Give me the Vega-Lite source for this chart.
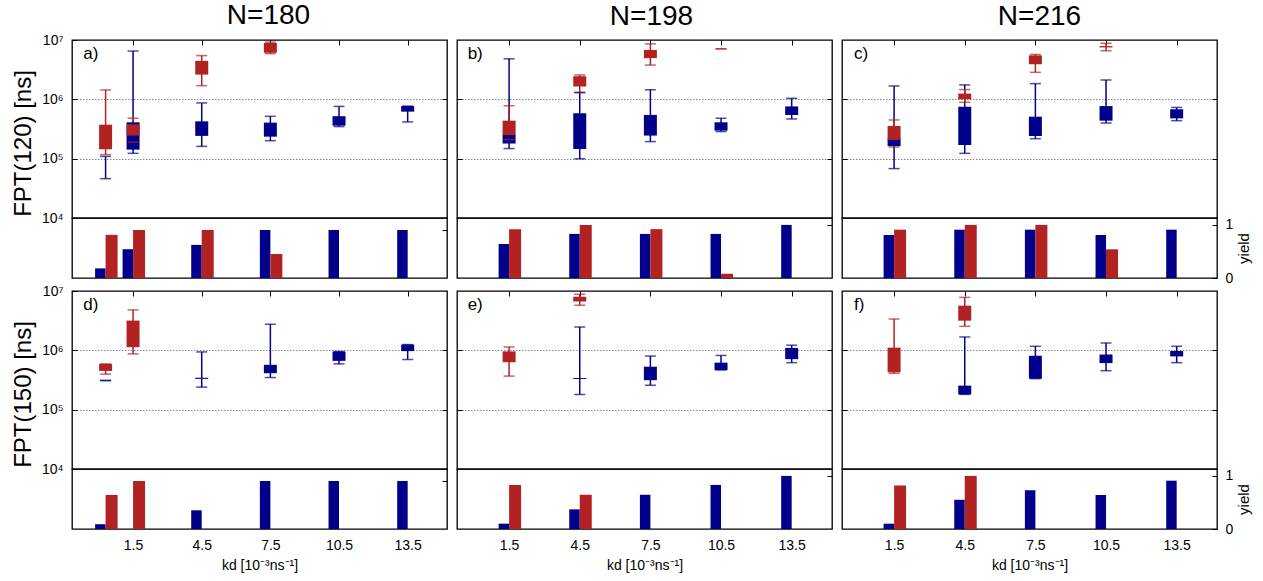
{
  "$schema": "https://vega.github.io/schema/vega-lite/v6.json",
  "background": "white",
  "padding": {"left": 10, "top": 0, "right": 5, "bottom": 3},
  "config": {
    "font": "Liberation Sans",
    "view": {"stroke": "black", "strokeWidth": 1.3},
    "axis": {"labelColor": "black", "tickColor": "black", "titleColor": "black", "labelFont": "Liberation Sans", "titleFont": "Liberation Sans", "tickWidth": 1},
    "title": {"color": "black", "fontWeight": "normal", "font": "Liberation Sans"}
  },
  "datasets": {
    "box": [
      {"p": "a", "kd": 0.3, "s": "b", "lo": 46000, "q1": null, "q3": null, "hi": 109000},
      {"p": "a", "kd": 1.5, "s": "b", "lo": 123000, "q1": 142000, "q3": 410000, "hi": 6500000},
      {"p": "a", "kd": 4.5, "s": "b", "lo": 161000, "q1": 242000, "q3": 426000, "hi": 870000},
      {"p": "a", "kd": 7.5, "s": "b", "lo": 201000, "q1": 235000, "q3": 405000, "hi": 517000},
      {"p": "a", "kd": 10.5, "s": "b", "lo": 347000, "q1": 360000, "q3": 520000, "hi": 760000},
      {"p": "a", "kd": 13.5, "s": "b", "lo": 416000, "q1": 620000, "q3": 770000, "hi": 770000},
      {"p": "b", "kd": 1.5, "s": "b", "lo": 148000, "q1": 180000, "q3": 255000, "hi": 4820000},
      {"p": "b", "kd": 4.5, "s": "b", "lo": 100000, "q1": 146000, "q3": 580000, "hi": 1310000},
      {"p": "b", "kd": 7.5, "s": "b", "lo": 194000, "q1": 245000, "q3": 546000, "hi": 1450000},
      {"p": "b", "kd": 10.5, "s": "b", "lo": 286000, "q1": 297000, "q3": 410000, "hi": 480000},
      {"p": "b", "kd": 13.5, "s": "b", "lo": 467000, "q1": 545000, "q3": 760000, "hi": 1040000},
      {"p": "c", "kd": 1.5, "s": "b", "lo": 68000, "q1": 163000, "q3": 220000, "hi": 1680000},
      {"p": "c", "kd": 4.5, "s": "b", "lo": 123000, "q1": 170000, "q3": 750000, "hi": 1750000},
      {"p": "c", "kd": 7.5, "s": "b", "lo": 217000, "q1": 241000, "q3": 510000, "hi": 1840000},
      {"p": "c", "kd": 10.5, "s": "b", "lo": 399000, "q1": 437000, "q3": 770000, "hi": 2120000},
      {"p": "c", "kd": 13.5, "s": "b", "lo": 437000, "q1": 478000, "q3": 680000, "hi": 730000},
      {"p": "d", "kd": 0.3, "s": "b", "lo": 310000, "q1": null, "q3": null, "hi": 310000},
      {"p": "d", "kd": 4.5, "s": "b", "lo": 240000, "q1": 330000, "q3": 345000, "hi": 940000},
      {"p": "d", "kd": 7.5, "s": "b", "lo": 348000, "q1": 412000, "q3": 570000, "hi": 2750000},
      {"p": "d", "kd": 10.5, "s": "b", "lo": 590000, "q1": 665000, "q3": 955000, "hi": 955000},
      {"p": "d", "kd": 13.5, "s": "b", "lo": 700000, "q1": 970000, "q3": 1250000, "hi": 1250000},
      {"p": "e", "kd": 4.5, "s": "b", "lo": 181000, "q1": 330000, "q3": 342000, "hi": 2480000},
      {"p": "e", "kd": 7.5, "s": "b", "lo": 258000, "q1": 314000, "q3": 530000, "hi": 800000},
      {"p": "e", "kd": 10.5, "s": "b", "lo": 466000, "q1": 466000, "q3": 620000, "hi": 820000},
      {"p": "e", "kd": 13.5, "s": "b", "lo": 620000, "q1": 710000, "q3": 1100000, "hi": 1220000},
      {"p": "f", "kd": 4.5, "s": "b", "lo": 181000, "q1": 181000, "q3": 254000, "hi": 1680000},
      {"p": "f", "kd": 7.5, "s": "b", "lo": 333000, "q1": 333000, "q3": 810000, "hi": 1170000},
      {"p": "f", "kd": 10.5, "s": "b", "lo": 454000, "q1": 610000, "q3": 850000, "hi": 1330000},
      {"p": "f", "kd": 13.5, "s": "b", "lo": 620000, "q1": 790000, "q3": 975000, "hi": 1170000},
      {"p": "a", "kd": 0.3, "s": "r", "lo": 117000, "q1": 144000, "q3": 374000, "hi": 1440000},
      {"p": "a", "kd": 1.5, "s": "r", "lo": 190000, "q1": 245000, "q3": 380000, "hi": 480000},
      {"p": "a", "kd": 4.5, "s": "r", "lo": 1700000, "q1": 2610000, "q3": 4450000, "hi": 5460000},
      {"p": "a", "kd": 7.5, "s": "r", "lo": 5900000, "q1": 6100000, "q3": 8900000, "hi": 9200000},
      {"p": "b", "kd": 1.5, "s": "r", "lo": 210000, "q1": 250000, "q3": 437000, "hi": 780000},
      {"p": "b", "kd": 4.5, "s": "r", "lo": 1310000, "q1": 1650000, "q3": 2440000, "hi": 2560000},
      {"p": "b", "kd": 7.5, "s": "r", "lo": 3780000, "q1": 4950000, "q3": 6800000, "hi": 8600000},
      {"p": "b", "kd": 10.5, "s": "r", "lo": 7100000, "q1": null, "q3": null, "hi": 7100000},
      {"p": "c", "kd": 1.5, "s": "r", "lo": 157000, "q1": 207000, "q3": 356000, "hi": 449000},
      {"p": "c", "kd": 4.5, "s": "r", "lo": 890000, "q1": 1000000, "q3": 1250000, "hi": 1460000},
      {"p": "c", "kd": 7.5, "s": "r", "lo": 2850000, "q1": 3900000, "q3": 5500000, "hi": 5700000},
      {"p": "c", "kd": 10.5, "s": "r", "lo": 6600000, "q1": 7500000, "q3": 7900000, "hi": 8800000},
      {"p": "d", "kd": 0.3, "s": "r", "lo": 397000, "q1": 450000, "q3": 590000, "hi": 590000},
      {"p": "d", "kd": 1.5, "s": "r", "lo": 870000, "q1": 1130000, "q3": 3170000, "hi": 4800000},
      {"p": "e", "kd": 1.5, "s": "r", "lo": 368000, "q1": 630000, "q3": 960000, "hi": 1140000},
      {"p": "e", "kd": 4.5, "s": "r", "lo": 5760000, "q1": 6650000, "q3": 8000000, "hi": 8800000},
      {"p": "f", "kd": 1.5, "s": "r", "lo": 410000, "q1": 426000, "q3": 1110000, "hi": 3370000},
      {"p": "f", "kd": 4.5, "s": "r", "lo": 2540000, "q1": 3160000, "q3": 5660000, "hi": 7800000}
    ],
    "yield": [
      {"p": "a", "kd": 0.3, "s": "b", "y": 0.2}, {"p": "a", "kd": 0.3, "s": "r", "y": 0.9},
      {"p": "a", "kd": 1.5, "s": "b", "y": 0.6}, {"p": "a", "kd": 1.5, "s": "r", "y": 1.0},
      {"p": "a", "kd": 4.5, "s": "b", "y": 0.69}, {"p": "a", "kd": 4.5, "s": "r", "y": 1.0},
      {"p": "a", "kd": 7.5, "s": "b", "y": 1.0}, {"p": "a", "kd": 7.5, "s": "r", "y": 0.5},
      {"p": "a", "kd": 10.5, "s": "b", "y": 1.0}, {"p": "a", "kd": 13.5, "s": "b", "y": 1.0},
      {"p": "b", "kd": 1.5, "s": "b", "y": 0.64}, {"p": "b", "kd": 1.5, "s": "r", "y": 0.92},
      {"p": "b", "kd": 4.5, "s": "b", "y": 0.83}, {"p": "b", "kd": 4.5, "s": "r", "y": 1.0},
      {"p": "b", "kd": 7.5, "s": "b", "y": 0.83}, {"p": "b", "kd": 7.5, "s": "r", "y": 0.92},
      {"p": "b", "kd": 10.5, "s": "b", "y": 0.83}, {"p": "b", "kd": 10.5, "s": "r", "y": 0.08},
      {"p": "b", "kd": 13.5, "s": "b", "y": 1.0},
      {"p": "c", "kd": 1.5, "s": "b", "y": 0.81}, {"p": "c", "kd": 1.5, "s": "r", "y": 0.91},
      {"p": "c", "kd": 4.5, "s": "b", "y": 0.91}, {"p": "c", "kd": 4.5, "s": "r", "y": 1.0},
      {"p": "c", "kd": 7.5, "s": "b", "y": 0.91}, {"p": "c", "kd": 7.5, "s": "r", "y": 1.0},
      {"p": "c", "kd": 10.5, "s": "b", "y": 0.81}, {"p": "c", "kd": 10.5, "s": "r", "y": 0.54},
      {"p": "c", "kd": 13.5, "s": "b", "y": 0.91},
      {"p": "d", "kd": 0.3, "s": "b", "y": 0.1}, {"p": "d", "kd": 0.3, "s": "r", "y": 0.71},
      {"p": "d", "kd": 1.5, "s": "r", "y": 1.0},
      {"p": "d", "kd": 4.5, "s": "b", "y": 0.39},
      {"p": "d", "kd": 7.5, "s": "b", "y": 1.0}, {"p": "d", "kd": 10.5, "s": "b", "y": 1.0},
      {"p": "d", "kd": 13.5, "s": "b", "y": 1.0},
      {"p": "e", "kd": 1.5, "s": "b", "y": 0.1}, {"p": "e", "kd": 1.5, "s": "r", "y": 0.83},
      {"p": "e", "kd": 4.5, "s": "b", "y": 0.37}, {"p": "e", "kd": 4.5, "s": "r", "y": 0.645},
      {"p": "e", "kd": 7.5, "s": "b", "y": 0.645}, {"p": "e", "kd": 10.5, "s": "b", "y": 0.83},
      {"p": "e", "kd": 13.5, "s": "b", "y": 1.0},
      {"p": "f", "kd": 1.5, "s": "b", "y": 0.1}, {"p": "f", "kd": 1.5, "s": "r", "y": 0.82},
      {"p": "f", "kd": 4.5, "s": "b", "y": 0.55}, {"p": "f", "kd": 4.5, "s": "r", "y": 1.0},
      {"p": "f", "kd": 7.5, "s": "b", "y": 0.73}, {"p": "f", "kd": 10.5, "s": "b", "y": 0.64},
      {"p": "f", "kd": 13.5, "s": "b", "y": 0.91}
    ]
  },
  "spacing": -3,
  "vconcat": [
    {
      "hconcat": [
        {
          "spacing": 0, "bounds": "flush",
          "vconcat": [
            {
              "width": 375, "height": 178,
              "title": {"text": "N=180", "fontSize": 28, "fontWeight": "normal", "offset": 3.5, "frame": "group", "anchor": "middle", "dx": 9},
              "data": {"name": "box"},
              "transform": [{"filter": "datum.p == 'a'"}],
              "resolve": {"axis": {"y": "independent"}},
              "layer": [
                {"mark": {"type": "rule", "strokeWidth": 1.5},
                 "encoding": {
                   "x": {"field": "kd", "type": "quantitative", "scale": {"domain": [-0.95, 15], "nice": false, "zero": false}, "axis": {"orient": "top", "values": [1.5, 4.5, 7.5, 10.5, 13.5], "labels": false, "tickSize": -5, "domain": false, "grid": false, "title": null}},
                   "y": {"field": "lo", "type": "quantitative", "scale": {"type": "log", "domain": [10000, 10000000], "nice": false}, "axis": {"orient": "left", "values": [10000, 100000, 1000000, 10000000], "tickSize": -5, "domain": false, "grid": false, "labelExpr": "'10' + (datum.value > 5000000 ? '⁷' : datum.value > 500000 ? '⁶' : datum.value > 50000 ? '⁵' : '⁴')", "labelFontSize": 14, "labelPadding": 14, "title": "FPT(120) [ns]", "titleFontSize": 24, "titleFontWeight": "normal", "titleX": -49, "titleY": 103, "titleBaseline": "middle"}},
                   "y2": {"field": "hi"},
                   "color": {"field": "s", "type": "nominal", "scale": {"domain": ["b", "r"], "range": ["#00008b", "#b22222"]}, "legend": null}}},
                {"transform": [{"filter": "isValid(datum.q1)"}],
                 "mark": {"type": "bar", "width": 13},
                 "encoding": {
                   "x": {"field": "kd", "type": "quantitative", "scale": {"domain": [-0.95, 15], "nice": false, "zero": false}},
                   "y": {"field": "q1", "type": "quantitative", "scale": {"type": "log", "domain": [10000, 10000000], "nice": false}, "axis": {"orient": "right", "values": [100000, 1000000], "labels": false, "tickSize": -5, "domain": false, "title": null, "grid": true, "gridDash": [1.5, 1.5], "gridColor": "#888888", "gridWidth": 1}},
                   "y2": {"field": "q3"},
                   "color": {"field": "s", "type": "nominal", "scale": {"domain": ["b", "r"], "range": ["#00008b", "#b22222"]}, "legend": null}}},
                {"mark": {"type": "tick", "orient": "horizontal", "size": 11, "thickness": 1.5},
                 "encoding": {
                   "x": {"field": "kd", "type": "quantitative", "scale": {"domain": [-0.95, 15], "nice": false, "zero": false}},
                   "y": {"field": "lo", "type": "quantitative", "scale": {"type": "log", "domain": [10000, 10000000], "nice": false}, "axis": null},
                   "color": {"field": "s", "type": "nominal", "scale": {"domain": ["b", "r"], "range": ["#00008b", "#b22222"]}, "legend": null}}},
                {"mark": {"type": "tick", "orient": "horizontal", "size": 11, "thickness": 1.5},
                 "encoding": {
                   "x": {"field": "kd", "type": "quantitative", "scale": {"domain": [-0.95, 15], "nice": false, "zero": false}},
                   "y": {"field": "hi", "type": "quantitative", "scale": {"type": "log", "domain": [10000, 10000000], "nice": false}, "axis": null},
                   "color": {"field": "s", "type": "nominal", "scale": {"domain": ["b", "r"], "range": ["#00008b", "#b22222"]}, "legend": null}}},
                {"data": {"values": [{}]},
                 "mark": {"type": "text", "align": "left", "baseline": "middle", "fontSize": 17, "color": "black"},
                 "encoding": {
                   "x": {"datum": -0.68, "type": "quantitative", "scale": {"domain": [-0.95, 15], "nice": false, "zero": false}},
                   "y": {"datum": 5800000, "type": "quantitative", "scale": {"type": "log", "domain": [10000, 10000000], "nice": false}, "axis": null},
                   "text": {"value": "a)"}}}
              ]
            },
            {
              "width": 375, "height": 60,
              "data": {"name": "yield"},
              "transform": [{"filter": "datum.p == 'a'"}],
              "layer": [
                {"transform": [{"filter": "datum.s == 'b'"}],
                 "mark": {"type": "bar", "width": 10.5, "xOffset": -5.25, "color": "#00008b"},
                 "encoding": {
                   "x": {"field": "kd", "type": "quantitative", "scale": {"domain": [-0.95, 15], "nice": false, "zero": false}, "axis": null},
                   "y": {"field": "y", "type": "quantitative", "scale": {"domain": [0, 1.25], "nice": false}, "axis": {"orient": "right", "values": [1], "tickSize": -5, "labels": false, "domain": false, "grid": false, "title": null}}}},
                {"transform": [{"filter": "datum.s == 'r'"}],
                 "mark": {"type": "bar", "width": 12, "xOffset": 6, "color": "#b22222"},
                 "encoding": {
                   "x": {"field": "kd", "type": "quantitative", "scale": {"domain": [-0.95, 15], "nice": false, "zero": false}, "axis": null},
                   "y": {"field": "y", "type": "quantitative", "scale": {"domain": [0, 1.25], "nice": false}, "axis": {"orient": "right", "values": [1], "tickSize": -5, "labels": false, "domain": false, "grid": false, "title": null}}}}
              ]
            }
          ]
        },
        {
          "spacing": 0, "bounds": "flush",
          "vconcat": [
            {
              "width": 375, "height": 178,
              "title": {"text": "N=198", "fontSize": 28, "fontWeight": "normal", "offset": 8.5, "frame": "group", "anchor": "middle", "dx": 7},
              "data": {"name": "box"},
              "transform": [{"filter": "datum.p == 'b'"}],
              "resolve": {"axis": {"y": "independent"}},
              "layer": [
                {"mark": {"type": "rule", "strokeWidth": 1.5},
                 "encoding": {
                   "x": {"field": "kd", "type": "quantitative", "scale": {"domain": [-0.5, 15], "nice": false, "zero": false}, "axis": {"orient": "top", "values": [1.5, 4.5, 7.5, 10.5, 13.5], "labels": false, "tickSize": -5, "domain": false, "grid": false, "title": null}},
                   "y": {"field": "lo", "type": "quantitative", "scale": {"type": "log", "domain": [10000, 10000000], "nice": false}, "axis": {"orient": "left", "values": [100000, 1000000], "tickSize": -5, "domain": false, "grid": false, "labels": false, "title": null}},
                   "y2": {"field": "hi"},
                   "color": {"field": "s", "type": "nominal", "scale": {"domain": ["b", "r"], "range": ["#00008b", "#b22222"]}, "legend": null}}},
                {"transform": [{"filter": "isValid(datum.q1)"}],
                 "mark": {"type": "bar", "width": 13},
                 "encoding": {
                   "x": {"field": "kd", "type": "quantitative", "scale": {"domain": [-0.5, 15], "nice": false, "zero": false}},
                   "y": {"field": "q1", "type": "quantitative", "scale": {"type": "log", "domain": [10000, 10000000], "nice": false}, "axis": {"orient": "right", "values": [100000, 1000000], "labels": false, "tickSize": -5, "domain": false, "title": null, "grid": true, "gridDash": [1.5, 1.5], "gridColor": "#888888", "gridWidth": 1}},
                   "y2": {"field": "q3"},
                   "color": {"field": "s", "type": "nominal", "scale": {"domain": ["b", "r"], "range": ["#00008b", "#b22222"]}, "legend": null}}},
                {"mark": {"type": "tick", "orient": "horizontal", "size": 11, "thickness": 1.5},
                 "encoding": {
                   "x": {"field": "kd", "type": "quantitative", "scale": {"domain": [-0.5, 15], "nice": false, "zero": false}},
                   "y": {"field": "lo", "type": "quantitative", "scale": {"type": "log", "domain": [10000, 10000000], "nice": false}, "axis": null},
                   "color": {"field": "s", "type": "nominal", "scale": {"domain": ["b", "r"], "range": ["#00008b", "#b22222"]}, "legend": null}}},
                {"mark": {"type": "tick", "orient": "horizontal", "size": 11, "thickness": 1.5},
                 "encoding": {
                   "x": {"field": "kd", "type": "quantitative", "scale": {"domain": [-0.5, 15], "nice": false, "zero": false}},
                   "y": {"field": "hi", "type": "quantitative", "scale": {"type": "log", "domain": [10000, 10000000], "nice": false}, "axis": null},
                   "color": {"field": "s", "type": "nominal", "scale": {"domain": ["b", "r"], "range": ["#00008b", "#b22222"]}, "legend": null}}},
                {"data": {"values": [{}]},
                 "mark": {"type": "text", "align": "left", "baseline": "middle", "fontSize": 17, "color": "black"},
                 "encoding": {
                   "x": {"datum": -0.26, "type": "quantitative", "scale": {"domain": [-0.5, 15], "nice": false, "zero": false}},
                   "y": {"datum": 5800000, "type": "quantitative", "scale": {"type": "log", "domain": [10000, 10000000], "nice": false}, "axis": null},
                   "text": {"value": "b)"}}}
              ]
            },
            {
              "width": 375, "height": 60,
              "data": {"name": "yield"},
              "transform": [{"filter": "datum.p == 'b'"}],
              "layer": [
                {"transform": [{"filter": "datum.s == 'b'"}],
                 "mark": {"type": "bar", "width": 10.5, "xOffset": -5.25, "color": "#00008b"},
                 "encoding": {
                   "x": {"field": "kd", "type": "quantitative", "scale": {"domain": [-0.5, 15], "nice": false, "zero": false}, "axis": null},
                   "y": {"field": "y", "type": "quantitative", "scale": {"domain": [0, 1.13], "nice": false}, "axis": {"orient": "right", "values": [1], "tickSize": -5, "labels": false, "domain": false, "grid": false, "title": null}}}},
                {"transform": [{"filter": "datum.s == 'r'"}],
                 "mark": {"type": "bar", "width": 12, "xOffset": 6, "color": "#b22222"},
                 "encoding": {
                   "x": {"field": "kd", "type": "quantitative", "scale": {"domain": [-0.5, 15], "nice": false, "zero": false}, "axis": null},
                   "y": {"field": "y", "type": "quantitative", "scale": {"domain": [0, 1.13], "nice": false}, "axis": {"orient": "right", "values": [1], "tickSize": -5, "labels": false, "domain": false, "grid": false, "title": null}}}}
              ]
            }
          ]
        },
        {
          "spacing": 0, "bounds": "flush",
          "vconcat": [
            {
              "width": 375, "height": 178,
              "title": {"text": "N=216", "fontSize": 28, "fontWeight": "normal", "offset": 8.5, "frame": "group", "anchor": "middle", "dx": 10},
              "data": {"name": "box"},
              "transform": [{"filter": "datum.p == 'c'"}],
              "resolve": {"axis": {"y": "independent"}},
              "layer": [
                {"mark": {"type": "rule", "strokeWidth": 1.5},
                 "encoding": {
                   "x": {"field": "kd", "type": "quantitative", "scale": {"domain": [-0.5, 15], "nice": false, "zero": false}, "axis": {"orient": "top", "values": [1.5, 4.5, 7.5, 10.5, 13.5], "labels": false, "tickSize": -5, "domain": false, "grid": false, "title": null}},
                   "y": {"field": "lo", "type": "quantitative", "scale": {"type": "log", "domain": [10000, 10000000], "nice": false}, "axis": {"orient": "left", "values": [100000, 1000000], "tickSize": -5, "domain": false, "grid": false, "labels": false, "title": null}},
                   "y2": {"field": "hi"},
                   "color": {"field": "s", "type": "nominal", "scale": {"domain": ["b", "r"], "range": ["#00008b", "#b22222"]}, "legend": null}}},
                {"transform": [{"filter": "isValid(datum.q1)"}],
                 "mark": {"type": "bar", "width": 13},
                 "encoding": {
                   "x": {"field": "kd", "type": "quantitative", "scale": {"domain": [-0.5, 15], "nice": false, "zero": false}},
                   "y": {"field": "q1", "type": "quantitative", "scale": {"type": "log", "domain": [10000, 10000000], "nice": false}, "axis": {"orient": "right", "values": [100000, 1000000], "labels": false, "tickSize": -5, "domain": false, "title": null, "grid": true, "gridDash": [1.5, 1.5], "gridColor": "#888888", "gridWidth": 1}},
                   "y2": {"field": "q3"},
                   "color": {"field": "s", "type": "nominal", "scale": {"domain": ["b", "r"], "range": ["#00008b", "#b22222"]}, "legend": null}}},
                {"mark": {"type": "tick", "orient": "horizontal", "size": 11, "thickness": 1.5},
                 "encoding": {
                   "x": {"field": "kd", "type": "quantitative", "scale": {"domain": [-0.5, 15], "nice": false, "zero": false}},
                   "y": {"field": "lo", "type": "quantitative", "scale": {"type": "log", "domain": [10000, 10000000], "nice": false}, "axis": null},
                   "color": {"field": "s", "type": "nominal", "scale": {"domain": ["b", "r"], "range": ["#00008b", "#b22222"]}, "legend": null}}},
                {"mark": {"type": "tick", "orient": "horizontal", "size": 11, "thickness": 1.5},
                 "encoding": {
                   "x": {"field": "kd", "type": "quantitative", "scale": {"domain": [-0.5, 15], "nice": false, "zero": false}},
                   "y": {"field": "hi", "type": "quantitative", "scale": {"type": "log", "domain": [10000, 10000000], "nice": false}, "axis": null},
                   "color": {"field": "s", "type": "nominal", "scale": {"domain": ["b", "r"], "range": ["#00008b", "#b22222"]}, "legend": null}}},
                {"data": {"values": [{}]},
                 "mark": {"type": "text", "align": "left", "baseline": "middle", "fontSize": 17, "color": "black"},
                 "encoding": {
                   "x": {"datum": -0.2, "type": "quantitative", "scale": {"domain": [-0.5, 15], "nice": false, "zero": false}},
                   "y": {"datum": 5800000, "type": "quantitative", "scale": {"type": "log", "domain": [10000, 10000000], "nice": false}, "axis": null},
                   "text": {"value": "c)"}}}
              ]
            },
            {
              "width": 375, "height": 60,
              "data": {"name": "yield"},
              "transform": [{"filter": "datum.p == 'c'"}],
              "layer": [
                {"transform": [{"filter": "datum.s == 'b'"}],
                 "mark": {"type": "bar", "width": 10.5, "xOffset": -5.25, "color": "#00008b"},
                 "encoding": {
                   "x": {"field": "kd", "type": "quantitative", "scale": {"domain": [-0.5, 15], "nice": false, "zero": false}, "axis": null},
                   "y": {"field": "y", "type": "quantitative", "scale": {"domain": [0, 1.13], "nice": false}, "axis": {"orient": "right", "values": [0, 1], "format": "d", "tickSize": -5, "labelFontSize": 14, "labelPadding": 13, "domain": false, "grid": false, "title": "yield", "titleFontSize": 15, "titleFontWeight": "normal", "titleAngle": -90, "titleBaseline": "top", "titlePadding": 4}}}},
                {"transform": [{"filter": "datum.s == 'r'"}],
                 "mark": {"type": "bar", "width": 12, "xOffset": 6, "color": "#b22222"},
                 "encoding": {
                   "x": {"field": "kd", "type": "quantitative", "scale": {"domain": [-0.5, 15], "nice": false, "zero": false}, "axis": null},
                   "y": {"field": "y", "type": "quantitative", "scale": {"domain": [0, 1.13], "nice": false}, "axis": {"orient": "right", "values": [0, 1], "format": "d", "tickSize": -5, "labelFontSize": 14, "labelPadding": 13, "domain": false, "grid": false, "title": "yield", "titleFontSize": 15, "titleFontWeight": "normal", "titleAngle": -90, "titleBaseline": "top", "titlePadding": 4}}}}
              ]
            }
          ]
        }
      ],
      "spacing": 6
    },
    {
      "hconcat": [
        {
          "spacing": 0, "bounds": "flush",
          "vconcat": [
            {
              "width": 375, "height": 178,
              "data": {"name": "box"},
              "transform": [{"filter": "datum.p == 'd'"}],
              "resolve": {"axis": {"y": "independent"}},
              "layer": [
                {"mark": {"type": "rule", "strokeWidth": 1.5},
                 "encoding": {
                   "x": {"field": "kd", "type": "quantitative", "scale": {"domain": [-0.95, 15], "nice": false, "zero": false}, "axis": {"orient": "top", "values": [1.5, 4.5, 7.5, 10.5, 13.5], "labels": false, "tickSize": -5, "domain": false, "grid": false, "title": null}},
                   "y": {"field": "lo", "type": "quantitative", "scale": {"type": "log", "domain": [10000, 10000000], "nice": false}, "axis": {"orient": "left", "values": [10000, 100000, 1000000, 10000000], "tickSize": -5, "domain": false, "grid": false, "labelExpr": "'10' + (datum.value > 5000000 ? '⁷' : datum.value > 500000 ? '⁶' : datum.value > 50000 ? '⁵' : '⁴')", "labelFontSize": 14, "labelPadding": 14, "title": "FPT(150) [ns]", "titleFontSize": 24, "titleFontWeight": "normal", "titleX": -49, "titleY": 103, "titleBaseline": "middle"}},
                   "y2": {"field": "hi"},
                   "color": {"field": "s", "type": "nominal", "scale": {"domain": ["b", "r"], "range": ["#00008b", "#b22222"]}, "legend": null}}},
                {"transform": [{"filter": "isValid(datum.q1)"}],
                 "mark": {"type": "bar", "width": 13},
                 "encoding": {
                   "x": {"field": "kd", "type": "quantitative", "scale": {"domain": [-0.95, 15], "nice": false, "zero": false}},
                   "y": {"field": "q1", "type": "quantitative", "scale": {"type": "log", "domain": [10000, 10000000], "nice": false}, "axis": {"orient": "right", "values": [100000, 1000000], "labels": false, "tickSize": -5, "domain": false, "title": null, "grid": true, "gridDash": [1.5, 1.5], "gridColor": "#888888", "gridWidth": 1}},
                   "y2": {"field": "q3"},
                   "color": {"field": "s", "type": "nominal", "scale": {"domain": ["b", "r"], "range": ["#00008b", "#b22222"]}, "legend": null}}},
                {"mark": {"type": "tick", "orient": "horizontal", "size": 11, "thickness": 1.5},
                 "encoding": {
                   "x": {"field": "kd", "type": "quantitative", "scale": {"domain": [-0.95, 15], "nice": false, "zero": false}},
                   "y": {"field": "lo", "type": "quantitative", "scale": {"type": "log", "domain": [10000, 10000000], "nice": false}, "axis": null},
                   "color": {"field": "s", "type": "nominal", "scale": {"domain": ["b", "r"], "range": ["#00008b", "#b22222"]}, "legend": null}}},
                {"mark": {"type": "tick", "orient": "horizontal", "size": 11, "thickness": 1.5},
                 "encoding": {
                   "x": {"field": "kd", "type": "quantitative", "scale": {"domain": [-0.95, 15], "nice": false, "zero": false}},
                   "y": {"field": "hi", "type": "quantitative", "scale": {"type": "log", "domain": [10000, 10000000], "nice": false}, "axis": null},
                   "color": {"field": "s", "type": "nominal", "scale": {"domain": ["b", "r"], "range": ["#00008b", "#b22222"]}, "legend": null}}},
                {"data": {"values": [{}]},
                 "mark": {"type": "text", "align": "left", "baseline": "middle", "fontSize": 17, "color": "black"},
                 "encoding": {
                   "x": {"datum": -0.68, "type": "quantitative", "scale": {"domain": [-0.95, 15], "nice": false, "zero": false}},
                   "y": {"datum": 5800000, "type": "quantitative", "scale": {"type": "log", "domain": [10000, 10000000], "nice": false}, "axis": null},
                   "text": {"value": "d)"}}}
              ]
            },
            {
              "width": 375, "height": 60,
              "data": {"name": "yield"},
              "transform": [{"filter": "datum.p == 'd'"}],
              "layer": [
                {"transform": [{"filter": "datum.s == 'b'"}],
                 "mark": {"type": "bar", "width": 10.5, "xOffset": -5.25, "color": "#00008b"},
                 "encoding": {
                   "x": {"field": "kd", "type": "quantitative", "scale": {"domain": [-0.95, 15], "nice": false, "zero": false}, "axis": {"orient": "bottom", "values": [1.5, 4.5, 7.5, 10.5, 13.5], "format": ".1f", "ticks": false, "domain": false, "grid": false, "labelFontSize": 14, "labelPadding": 9, "title": "kd [10⁻³ns⁻¹]", "titleFontSize": 14, "titleFontWeight": "normal", "titlePadding": 6}},
                   "y": {"field": "y", "type": "quantitative", "scale": {"domain": [0, 1.25], "nice": false}, "axis": {"orient": "right", "values": [1], "tickSize": -5, "labels": false, "domain": false, "grid": false, "title": null}}}},
                {"transform": [{"filter": "datum.s == 'r'"}],
                 "mark": {"type": "bar", "width": 12, "xOffset": 6, "color": "#b22222"},
                 "encoding": {
                   "x": {"field": "kd", "type": "quantitative", "scale": {"domain": [-0.95, 15], "nice": false, "zero": false}, "axis": {"orient": "bottom", "values": [1.5, 4.5, 7.5, 10.5, 13.5], "format": ".1f", "ticks": false, "domain": false, "grid": false, "labelFontSize": 14, "labelPadding": 9, "title": "kd [10⁻³ns⁻¹]", "titleFontSize": 14, "titleFontWeight": "normal", "titlePadding": 6}},
                   "y": {"field": "y", "type": "quantitative", "scale": {"domain": [0, 1.25], "nice": false}, "axis": {"orient": "right", "values": [1], "tickSize": -5, "labels": false, "domain": false, "grid": false, "title": null}}}}
              ]
            }
          ]
        },
        {
          "spacing": 0, "bounds": "flush",
          "vconcat": [
            {
              "width": 375, "height": 178,
              "data": {"name": "box"},
              "transform": [{"filter": "datum.p == 'e'"}],
              "resolve": {"axis": {"y": "independent"}},
              "layer": [
                {"mark": {"type": "rule", "strokeWidth": 1.5},
                 "encoding": {
                   "x": {"field": "kd", "type": "quantitative", "scale": {"domain": [-0.5, 15], "nice": false, "zero": false}, "axis": {"orient": "top", "values": [1.5, 4.5, 7.5, 10.5, 13.5], "labels": false, "tickSize": -5, "domain": false, "grid": false, "title": null}},
                   "y": {"field": "lo", "type": "quantitative", "scale": {"type": "log", "domain": [10000, 10000000], "nice": false}, "axis": {"orient": "left", "values": [100000, 1000000], "tickSize": -5, "domain": false, "grid": false, "labels": false, "title": null}},
                   "y2": {"field": "hi"},
                   "color": {"field": "s", "type": "nominal", "scale": {"domain": ["b", "r"], "range": ["#00008b", "#b22222"]}, "legend": null}}},
                {"transform": [{"filter": "isValid(datum.q1)"}],
                 "mark": {"type": "bar", "width": 13},
                 "encoding": {
                   "x": {"field": "kd", "type": "quantitative", "scale": {"domain": [-0.5, 15], "nice": false, "zero": false}},
                   "y": {"field": "q1", "type": "quantitative", "scale": {"type": "log", "domain": [10000, 10000000], "nice": false}, "axis": {"orient": "right", "values": [100000, 1000000], "labels": false, "tickSize": -5, "domain": false, "title": null, "grid": true, "gridDash": [1.5, 1.5], "gridColor": "#888888", "gridWidth": 1}},
                   "y2": {"field": "q3"},
                   "color": {"field": "s", "type": "nominal", "scale": {"domain": ["b", "r"], "range": ["#00008b", "#b22222"]}, "legend": null}}},
                {"mark": {"type": "tick", "orient": "horizontal", "size": 11, "thickness": 1.5},
                 "encoding": {
                   "x": {"field": "kd", "type": "quantitative", "scale": {"domain": [-0.5, 15], "nice": false, "zero": false}},
                   "y": {"field": "lo", "type": "quantitative", "scale": {"type": "log", "domain": [10000, 10000000], "nice": false}, "axis": null},
                   "color": {"field": "s", "type": "nominal", "scale": {"domain": ["b", "r"], "range": ["#00008b", "#b22222"]}, "legend": null}}},
                {"mark": {"type": "tick", "orient": "horizontal", "size": 11, "thickness": 1.5},
                 "encoding": {
                   "x": {"field": "kd", "type": "quantitative", "scale": {"domain": [-0.5, 15], "nice": false, "zero": false}},
                   "y": {"field": "hi", "type": "quantitative", "scale": {"type": "log", "domain": [10000, 10000000], "nice": false}, "axis": null},
                   "color": {"field": "s", "type": "nominal", "scale": {"domain": ["b", "r"], "range": ["#00008b", "#b22222"]}, "legend": null}}},
                {"data": {"values": [{}]},
                 "mark": {"type": "text", "align": "left", "baseline": "middle", "fontSize": 17, "color": "black"},
                 "encoding": {
                   "x": {"datum": -0.26, "type": "quantitative", "scale": {"domain": [-0.5, 15], "nice": false, "zero": false}},
                   "y": {"datum": 5800000, "type": "quantitative", "scale": {"type": "log", "domain": [10000, 10000000], "nice": false}, "axis": null},
                   "text": {"value": "e)"}}}
              ]
            },
            {
              "width": 375, "height": 60,
              "data": {"name": "yield"},
              "transform": [{"filter": "datum.p == 'e'"}],
              "layer": [
                {"transform": [{"filter": "datum.s == 'b'"}],
                 "mark": {"type": "bar", "width": 10.5, "xOffset": -5.25, "color": "#00008b"},
                 "encoding": {
                   "x": {"field": "kd", "type": "quantitative", "scale": {"domain": [-0.5, 15], "nice": false, "zero": false}, "axis": {"orient": "bottom", "values": [1.5, 4.5, 7.5, 10.5, 13.5], "format": ".1f", "ticks": false, "domain": false, "grid": false, "labelFontSize": 14, "labelPadding": 9, "title": "kd [10⁻³ns⁻¹]", "titleFontSize": 14, "titleFontWeight": "normal", "titlePadding": 6}},
                   "y": {"field": "y", "type": "quantitative", "scale": {"domain": [0, 1.13], "nice": false}, "axis": {"orient": "right", "values": [1], "tickSize": -5, "labels": false, "domain": false, "grid": false, "title": null}}}},
                {"transform": [{"filter": "datum.s == 'r'"}],
                 "mark": {"type": "bar", "width": 12, "xOffset": 6, "color": "#b22222"},
                 "encoding": {
                   "x": {"field": "kd", "type": "quantitative", "scale": {"domain": [-0.5, 15], "nice": false, "zero": false}, "axis": {"orient": "bottom", "values": [1.5, 4.5, 7.5, 10.5, 13.5], "format": ".1f", "ticks": false, "domain": false, "grid": false, "labelFontSize": 14, "labelPadding": 9, "title": "kd [10⁻³ns⁻¹]", "titleFontSize": 14, "titleFontWeight": "normal", "titlePadding": 6}},
                   "y": {"field": "y", "type": "quantitative", "scale": {"domain": [0, 1.13], "nice": false}, "axis": {"orient": "right", "values": [1], "tickSize": -5, "labels": false, "domain": false, "grid": false, "title": null}}}}
              ]
            }
          ]
        },
        {
          "spacing": 0, "bounds": "flush",
          "vconcat": [
            {
              "width": 375, "height": 178,
              "data": {"name": "box"},
              "transform": [{"filter": "datum.p == 'f'"}],
              "resolve": {"axis": {"y": "independent"}},
              "layer": [
                {"mark": {"type": "rule", "strokeWidth": 1.5},
                 "encoding": {
                   "x": {"field": "kd", "type": "quantitative", "scale": {"domain": [-0.5, 15], "nice": false, "zero": false}, "axis": {"orient": "top", "values": [1.5, 4.5, 7.5, 10.5, 13.5], "labels": false, "tickSize": -5, "domain": false, "grid": false, "title": null}},
                   "y": {"field": "lo", "type": "quantitative", "scale": {"type": "log", "domain": [10000, 10000000], "nice": false}, "axis": {"orient": "left", "values": [100000, 1000000], "tickSize": -5, "domain": false, "grid": false, "labels": false, "title": null}},
                   "y2": {"field": "hi"},
                   "color": {"field": "s", "type": "nominal", "scale": {"domain": ["b", "r"], "range": ["#00008b", "#b22222"]}, "legend": null}}},
                {"transform": [{"filter": "isValid(datum.q1)"}],
                 "mark": {"type": "bar", "width": 13},
                 "encoding": {
                   "x": {"field": "kd", "type": "quantitative", "scale": {"domain": [-0.5, 15], "nice": false, "zero": false}},
                   "y": {"field": "q1", "type": "quantitative", "scale": {"type": "log", "domain": [10000, 10000000], "nice": false}, "axis": {"orient": "right", "values": [100000, 1000000], "labels": false, "tickSize": -5, "domain": false, "title": null, "grid": true, "gridDash": [1.5, 1.5], "gridColor": "#888888", "gridWidth": 1}},
                   "y2": {"field": "q3"},
                   "color": {"field": "s", "type": "nominal", "scale": {"domain": ["b", "r"], "range": ["#00008b", "#b22222"]}, "legend": null}}},
                {"mark": {"type": "tick", "orient": "horizontal", "size": 11, "thickness": 1.5},
                 "encoding": {
                   "x": {"field": "kd", "type": "quantitative", "scale": {"domain": [-0.5, 15], "nice": false, "zero": false}},
                   "y": {"field": "lo", "type": "quantitative", "scale": {"type": "log", "domain": [10000, 10000000], "nice": false}, "axis": null},
                   "color": {"field": "s", "type": "nominal", "scale": {"domain": ["b", "r"], "range": ["#00008b", "#b22222"]}, "legend": null}}},
                {"mark": {"type": "tick", "orient": "horizontal", "size": 11, "thickness": 1.5},
                 "encoding": {
                   "x": {"field": "kd", "type": "quantitative", "scale": {"domain": [-0.5, 15], "nice": false, "zero": false}},
                   "y": {"field": "hi", "type": "quantitative", "scale": {"type": "log", "domain": [10000, 10000000], "nice": false}, "axis": null},
                   "color": {"field": "s", "type": "nominal", "scale": {"domain": ["b", "r"], "range": ["#00008b", "#b22222"]}, "legend": null}}},
                {"data": {"values": [{}]},
                 "mark": {"type": "text", "align": "left", "baseline": "middle", "fontSize": 17, "color": "black"},
                 "encoding": {
                   "x": {"datum": -0.2, "type": "quantitative", "scale": {"domain": [-0.5, 15], "nice": false, "zero": false}},
                   "y": {"datum": 5800000, "type": "quantitative", "scale": {"type": "log", "domain": [10000, 10000000], "nice": false}, "axis": null},
                   "text": {"value": "f)"}}}
              ]
            },
            {
              "width": 375, "height": 60,
              "data": {"name": "yield"},
              "transform": [{"filter": "datum.p == 'f'"}],
              "layer": [
                {"transform": [{"filter": "datum.s == 'b'"}],
                 "mark": {"type": "bar", "width": 10.5, "xOffset": -5.25, "color": "#00008b"},
                 "encoding": {
                   "x": {"field": "kd", "type": "quantitative", "scale": {"domain": [-0.5, 15], "nice": false, "zero": false}, "axis": {"orient": "bottom", "values": [1.5, 4.5, 7.5, 10.5, 13.5], "format": ".1f", "ticks": false, "domain": false, "grid": false, "labelFontSize": 14, "labelPadding": 9, "title": "kd [10⁻³ns⁻¹]", "titleFontSize": 14, "titleFontWeight": "normal", "titlePadding": 6}},
                   "y": {"field": "y", "type": "quantitative", "scale": {"domain": [0, 1.13], "nice": false}, "axis": {"orient": "right", "values": [0, 1], "format": "d", "tickSize": -5, "labelFontSize": 14, "labelPadding": 13, "domain": false, "grid": false, "title": "yield", "titleFontSize": 15, "titleFontWeight": "normal", "titleAngle": -90, "titleBaseline": "top", "titlePadding": 4}}}},
                {"transform": [{"filter": "datum.s == 'r'"}],
                 "mark": {"type": "bar", "width": 12, "xOffset": 6, "color": "#b22222"},
                 "encoding": {
                   "x": {"field": "kd", "type": "quantitative", "scale": {"domain": [-0.5, 15], "nice": false, "zero": false}, "axis": {"orient": "bottom", "values": [1.5, 4.5, 7.5, 10.5, 13.5], "format": ".1f", "ticks": false, "domain": false, "grid": false, "labelFontSize": 14, "labelPadding": 9, "title": "kd [10⁻³ns⁻¹]", "titleFontSize": 14, "titleFontWeight": "normal", "titlePadding": 6}},
                   "y": {"field": "y", "type": "quantitative", "scale": {"domain": [0, 1.13], "nice": false}, "axis": {"orient": "right", "values": [0, 1], "format": "d", "tickSize": -5, "labelFontSize": 14, "labelPadding": 13, "domain": false, "grid": false, "title": "yield", "titleFontSize": 15, "titleFontWeight": "normal", "titleAngle": -90, "titleBaseline": "top", "titlePadding": 4}}}}
              ]
            }
          ]
        }
      ],
      "spacing": 6
    }
  ]
}
